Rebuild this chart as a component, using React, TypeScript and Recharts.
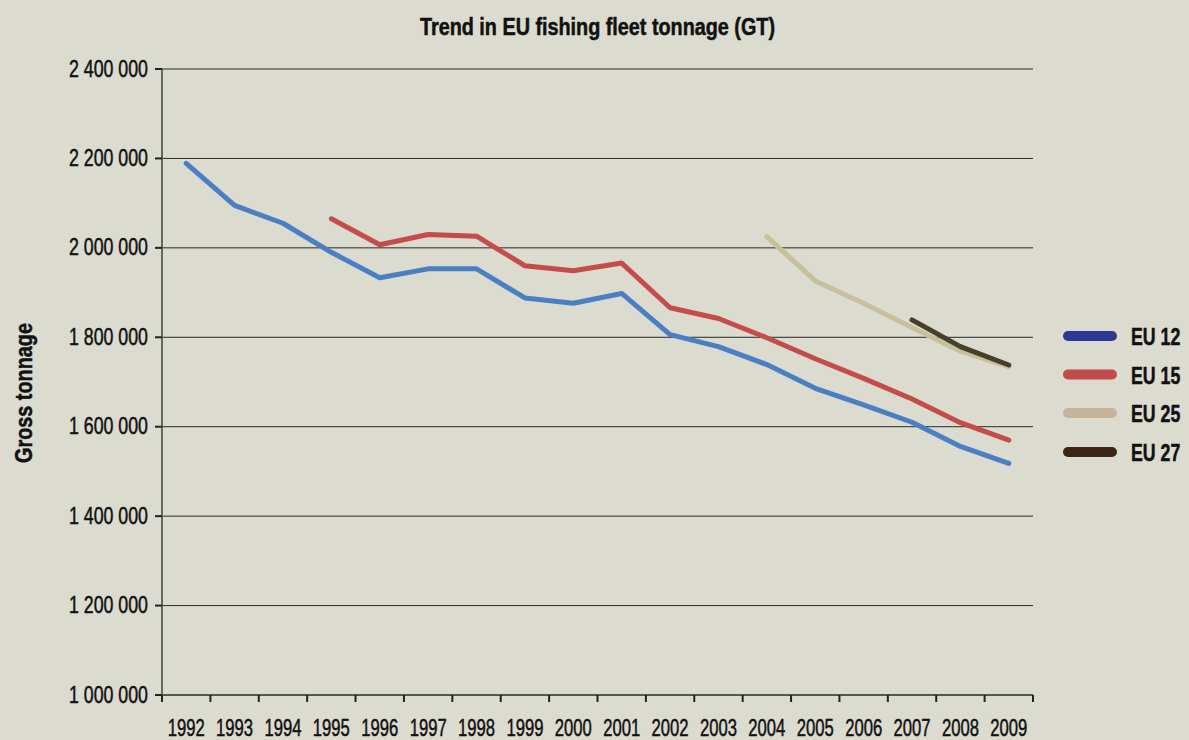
import { CartesianGrid, Line, LineChart, XAxis, YAxis } from "recharts";

const years = [
  1992, 1993, 1994, 1995, 1996, 1997, 1998, 1999, 2000, 2001, 2002, 2003, 2004,
  2005, 2006, 2007, 2008, 2009,
];

// gross tonnage per fleet grouping, null where the grouping did not exist yet
const eu12 = [
  2189000, 2095000, 2055000, 1990000, 1933000, 1953000, 1953000, 1888000,
  1876000, 1898000, 1806000, 1779000, 1739000, 1686000, 1649000, 1610000,
  1556000, 1518000,
];
const eu15 = [
  null, null, null, 2065000, 2007000, 2030000, 2026000, 1960000, 1949000,
  1966000, 1866000, 1842000, 1799000, 1752000, 1708000, 1662000, 1609000,
  1570000,
];
const eu25 = [
  null, null, null, null, null, null, null, null, null, null, null, null,
  2025000, 1926000, 1876000, 1822000, 1769000, 1734000,
];
const eu27 = [
  null, null, null, null, null, null, null, null, null, null, null, null, null,
  null, null, 1839000, 1779000, 1738000,
];

const yTicks = [1000000, 1200000, 1400000, 1600000, 1800000, 2000000, 2200000, 2400000];

const series = [
  { key: "eu12", name: "EU 12", line: "#4a7fc3", swatch: "#2e3893" },
  { key: "eu15", name: "EU 15", line: "#c44c4a", swatch: "#c04b4b" },
  { key: "eu25", name: "EU 25", line: "#c8c09c", swatch: "#c5b49b" },
  { key: "eu27", name: "EU 27", line: "#454029", swatch: "#3e2417" },
];

const data = years.map((year, i) => ({
  year,
  eu12: eu12[i],
  eu15: eu15[i],
  eu25: eu25[i],
  eu27: eu27[i],
}));

// tick marks sit between the years, labels sit on the years
const xTicks = [...years.map((y) => y - 0.5), years[years.length - 1] + 0.5, ...years].sort(
  (a, b) => a - b
);

// no condensed face installed, so squeeze Liberation Sans with textLength
const font = "'Liberation Sans', Arial, sans-serif";
const ink = "#111";
// a hairline stroke makes the squeezed glyphs about as heavy as the original
const heavy = { stroke: ink, strokeWidth: 0.5 };

const fmt = (v: number) => String(v).replace(/\B(?=(\d{3})+(?!\d))/g, " ");

function YearTick({ x, y, payload }: any) {
  const v = payload.value;
  if (!Number.isInteger(v)) {
    return <line x1={x} x2={x} y1={y - 8} y2={y - 1} stroke="#222" strokeWidth={2} />;
  }
  return (
    <text
      x={x}
      y={y + 33}
      textAnchor="middle"
      fontSize={24}
      fontFamily={font}
      fill={ink}
      {...heavy}
      textLength={37}
      lengthAdjust="spacingAndGlyphs"
    >
      {v}
    </text>
  );
}

function ValueTick({ x, y, payload }: any) {
  return (
    <text
      x={x}
      y={y - 1}
      textAnchor="end"
      dominantBaseline="central"
      fontSize={24}
      fontFamily={font}
      fill={ink}
      {...heavy}
      textLength={79}
      lengthAdjust="spacingAndGlyphs"
    >
      {fmt(payload.value)}
    </text>
  );
}

function Overlay() {
  const rowY = [336, 374.5, 413, 452];
  return (
    <svg
      width={1189}
      height={740}
      style={{ position: "absolute", left: 0, top: 0, pointerEvents: "none" }}
    >
      <text
        x={597.5}
        y={35}
        textAnchor="middle"
        fontSize={23}
        fontWeight="bold"
        fontFamily={font}
        fill={ink}
        {...heavy}
        textLength={355}
        lengthAdjust="spacingAndGlyphs"
      >
        Trend in EU fishing fleet tonnage (GT)
      </text>
      {series.map((s, i) => (
        <g key={s.key}>
          <line
            x1={1068}
            x2={1112}
            y1={rowY[i]}
            y2={rowY[i]}
            stroke={s.swatch}
            strokeWidth={10}
            strokeLinecap="round"
          />
          <text
            transform={`translate(1131, ${rowY[i] + 9}) scale(0.74, 1)`}
            fontSize={24}
            fontWeight="bold"
            fontFamily={font}
            fill={ink}
            {...heavy}
          >
            {s.name}
          </text>
        </g>
      ))}
    </svg>
  );
}

export default function App() {
  return (
    <div
      style={{
        position: "absolute",
        left: 0,
        top: 0,
        width: 1189,
        height: 740,
        background: "#dcdbcf",
      }}
    >
      <LineChart
        width={1189}
        height={740}
        data={data}
        margin={{ top: 69, right: 156, bottom: 0, left: 0 }}
      >
        <CartesianGrid vertical={false} stroke="#2a2a2a" strokeWidth={1} />
        <XAxis
          dataKey="year"
          type="number"
          domain={[1991.5, 2009.5]}
          ticks={xTicks}
          interval={0}
          tickLine={false}
          tick={<YearTick />}
          axisLine={{ stroke: "#555", strokeWidth: 2 }}
          height={45}
        />
        <YAxis
          domain={[1000000, 2400000]}
          ticks={yTicks}
          interval={0}
          width={162}
          tickSize={7}
          tickMargin={7}
          tickLine={{ stroke: "#222", strokeWidth: 2 }}
          axisLine={{ stroke: "#666", strokeWidth: 2 }}
          tick={<ValueTick />}
          label={{
            content: ({ viewBox }: any) => {
              const cy = viewBox.y + viewBox.height / 2 + 11;
              return (
                <text
                  x={24}
                  y={cy}
                  transform={`rotate(-90, 24, ${cy})`}
                  textAnchor="middle"
                  dominantBaseline="central"
                  fontSize={23}
                  fontWeight="bold"
                  fontFamily={font}
                  fill={ink}
                  {...heavy}
                  textLength={140}
                  lengthAdjust="spacingAndGlyphs"
                >
                  Gross tonnage
                </text>
              );
            },
          }}
        />
        {series.map((s) => (
          <Line
            key={s.key}
            dataKey={s.key}
            name={s.name}
            type="linear"
            stroke={s.line}
            strokeWidth={5}
            strokeLinecap="round"
            strokeLinejoin="round"
            dot={false}
            activeDot={false}
            isAnimationActive={false}
          />
        ))}
      </LineChart>
      <Overlay />
    </div>
  );
}
